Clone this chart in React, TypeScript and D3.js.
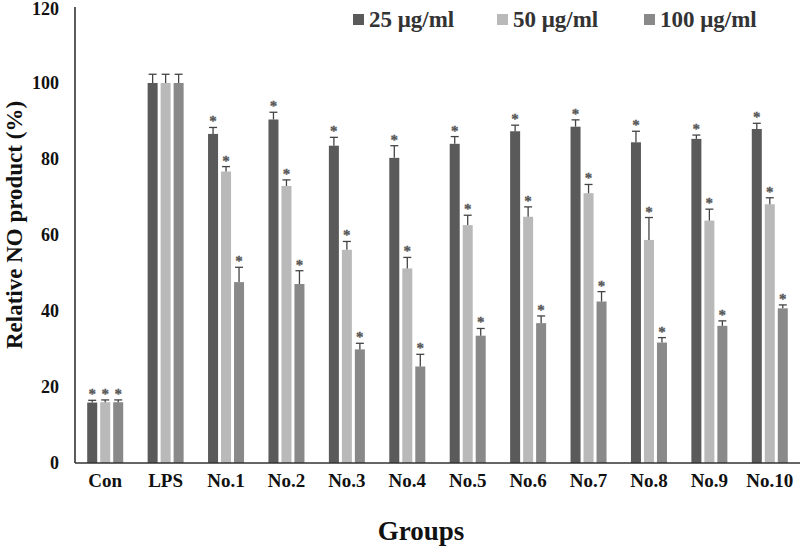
import React from "react";
import * as d3 from "d3";

const groups = ["Con", "LPS", "No.1", "No.2", "No.3", "No.4", "No.5", "No.6", "No.7", "No.8", "No.9", "No.10"];
const seriesNames = ["25 μg/ml", "50 μg/ml", "100 μg/ml"];
const values25 = [15.9, 100, 86.6, 90.4, 83.5, 80.3, 84.0, 87.3, 88.5, 84.4, 85.3, 87.9];
const values50 = [16.0, 100, 76.7, 72.9, 56.1, 51.2, 62.6, 64.8, 71.0, 58.7, 63.8, 68.1];
const values100 = [16.0, 100, 47.6, 47.1, 29.9, 25.4, 33.5, 36.8, 42.5, 31.7, 36.1, 40.7];
const errors25 = [0.6, 2.3, 1.7, 1.9, 2.2, 3.2, 1.9, 1.6, 1.8, 2.9, 1.0, 1.5];
const errors50 = [0.6, 2.3, 1.3, 1.6, 2.2, 2.9, 2.6, 2.6, 2.3, 5.9, 3.0, 1.7];
const errors100 = [0.6, 2.3, 3.9, 3.5, 1.6, 3.2, 1.9, 1.9, 2.6, 1.3, 1.3, 0.9];
const significant = [true, false, true, true, true, true, true, true, true, true, true, true];
const yTicks = [0, 20, 40, 60, 80, 100, 120];
const colors = ["#5a5a5a", "#b9b9b9", "#898989"];

const W = 800;
const H = 547;
const left = 75;
const right = 800;
const top = 7;
const bottom = 463;

export default function App() {
  const x0 = d3.scaleBand<string>().domain(groups).range([left, right]).padding(0);
  const bw = x0.bandwidth();
  const x1 = d3
    .scaleBand<string>()
    .domain(seriesNames)
    .range([bw / 2 - 18, bw / 2 + 18])
    .paddingInner(0.23)
    .paddingOuter(0);
  const y = d3.scaleLinear().domain([0, 120]).range([bottom, top]);
  const vals = [values25, values50, values100];
  const errs = [errors25, errors50, errors100];
  const serif = "'Liberation Serif', 'Times New Roman', serif";

  const legendX = [353, 497, 644];

  return (
    <svg width={W} height={H} style={{ position: "absolute", left: 0, top: 0 }} fontFamily={serif}>
      <rect width={W} height={H} fill="#fff" />
      {groups.map((g, gi) => (
        <g key={g} transform={`translate(${x0(g)},0)`}>
          {seriesNames.map((s, si) => {
            const v = vals[si][gi];
            const e = errs[si][gi];
            const bx = x1(s)!;
            const w = x1.bandwidth();
            const cx = bx + w / 2;
            const yTop = y(v + e);
            return (
              <g key={s}>
                <rect x={bx} y={y(v)} width={w} height={bottom - y(v)} fill={colors[si]} />
                <line x1={cx} x2={cx} y1={y(v)} y2={yTop} stroke="#444" strokeWidth={1.3} />
                <line x1={cx - 4} x2={cx + 4} y1={yTop} y2={yTop} stroke="#444" strokeWidth={1.3} />
                {significant[gi] && (
                  <text
                    x={cx}
                    y={yTop - 1}
                    textAnchor="middle"
                    fontSize={15}
                    fill="#555"
                    stroke="#555"
                    strokeWidth={0.3}
                    fontWeight="bold"
                  >
                    *
                  </text>
                )}
              </g>
            );
          })}
        </g>
      ))}
      <line x1={left} x2={left} y1={top} y2={bottom} stroke="#333" strokeWidth={1.6} />
      <line x1={left} x2={right} y1={bottom} y2={bottom} stroke="#333" strokeWidth={1.6} />
      {yTicks.map((t) => (
        <text key={t} x={59} y={Math.max(y(t) + 6, 15)} textAnchor="end" fontSize={18} fontWeight="bold" fill="#111">
          {t}
        </text>
      ))}
      {groups.map((g) => (
        <text key={g} x={x0(g)! + bw / 2} y={487} textAnchor="middle" fontSize={19} fontWeight="bold" fill="#111">
          {g}
        </text>
      ))}
      <text x={421} y={540} textAnchor="middle" fontSize={27} fontWeight="bold" fill="#111">
        Groups
      </text>
      <text
        transform={`translate(22,225) rotate(-90)`}
        textAnchor="middle"
        fontSize={23}
        fontWeight="bold"
        fill="#111"
      >
        Relative NO product (%)
      </text>
      {seriesNames.map((s, i) => (
        <g key={s}>
          <rect x={legendX[i]} y={14} width={11} height={11} fill={colors[i]} />
          <text x={legendX[i] + 16} y={27} fontSize={23} fontWeight="bold" fill="#333">
            {s}
          </text>
        </g>
      ))}
    </svg>
  );
}
